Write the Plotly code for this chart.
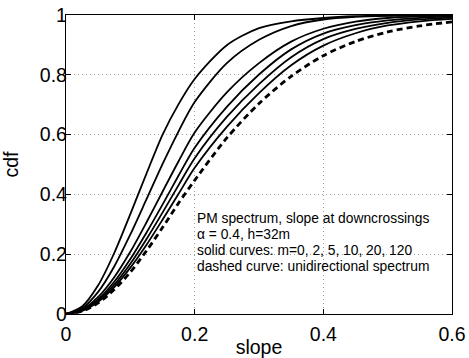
import plotly.graph_objects as go

slope = [0, 0.025, 0.05, 0.075, 0.1, 0.125, 0.15, 0.175, 0.2, 0.25, 0.3, 0.35, 0.4, 0.45, 0.5, 0.55, 0.6]

cdf_m0 = [0, 0.025, 0.096, 0.204, 0.334, 0.469, 0.599, 0.702, 0.786, 0.899, 0.956, 0.979, 0.990, 0.996, 0.998, 0.999, 0.9995]
cdf_m2 = [0, 0.019, 0.074, 0.159, 0.266, 0.383, 0.501, 0.611, 0.709, 0.839, 0.917, 0.963, 0.985, 0.9937, 0.9974, 0.9991, 0.9997]
cdf_m5 = [0, 0.0145, 0.057, 0.123, 0.208, 0.306, 0.409, 0.511, 0.607, 0.741, 0.839, 0.911, 0.954, 0.978, 0.990, 0.9954, 0.998]
cdf_m10 = [0, 0.0126, 0.0495, 0.108, 0.184, 0.272, 0.366, 0.463, 0.556, 0.693, 0.801, 0.885, 0.938, 0.966, 0.982, 0.9905, 0.9951]
cdf_m20 = [0, 0.0114, 0.045, 0.098, 0.168, 0.250, 0.339, 0.431, 0.521, 0.659, 0.769, 0.859, 0.9195, 0.9534, 0.9738, 0.9852, 0.9914]
cdf_m120 = [0, 0.0104, 0.041, 0.090, 0.155, 0.231, 0.315, 0.402, 0.489, 0.626, 0.739, 0.832, 0.8976, 0.939, 0.965, 0.979, 0.987]
cdf_uni = [0, 0.0094, 0.037, 0.0817, 0.140, 0.211, 0.289, 0.371, 0.447, 0.589, 0.704, 0.795, 0.864, 0.9115, 0.9434, 0.9637, 0.977]

solid_series = [cdf_m0, cdf_m2, cdf_m5, cdf_m10, cdf_m20, cdf_m120]
solid_names = ["m=0", "m=2", "m=5", "m=10", "m=20", "m=120"]

x_ticks = [0, 0.2, 0.4, 0.6]
x_tick_labels = ["0", "0.2", "0.4", "0.6"]
y_ticks = [0, 0.2, 0.4, 0.6, 0.8, 1]
y_tick_labels = ["0", "0.2", "0.4", "0.6", "0.8", "1"]

note_lines = [
    "PM spectrum, slope at downcrossings",
    "\u03b1 = 0.4, h=32m",
    "solid curves: m=0, 2, 5, 10, 20, 120",
    "dashed curve: unidirectional spectrum",
]

FONT = "Liberation Sans, Arial, Helvetica, sans-serif"

fig = go.Figure()
for ys, nm in zip(solid_series, solid_names):
    fig.add_trace(go.Scatter(x=slope, y=ys, mode="lines", name=nm,
                             line=dict(color="black", width=1.8, shape="spline", smoothing=0.8)))
fig.add_trace(go.Scatter(x=slope, y=cdf_uni, mode="lines", name="unidirectional",
                         line=dict(color="black", width=2.8, dash="6px,4px", shape="spline", smoothing=0.8)))

for i, t in enumerate(note_lines):
    fig.add_annotation(x=0.201, y=0.318 - i * 0.053, xref="x", yref="y", text=t,
                       showarrow=False, xanchor="left", yanchor="middle",
                       font=dict(family=FONT, size=13.8, color="black"))

axis_common = dict(showline=True, linecolor="black", linewidth=1.3, mirror="ticks",
                   ticks="inside", ticklen=5, tickcolor="black", tickwidth=1,
                   showgrid=True, gridcolor="#a0a0a0", gridwidth=1, griddash="1px,3px",
                   zeroline=False, automargin=False, ticklabeloverflow="allow",
                   tickfont=dict(family=FONT, size=19.5, color="black"))

fig.update_xaxes(range=[0, 0.6], tickvals=x_ticks, ticktext=x_tick_labels, ticklabelstandoff=2,
                 title=dict(text="slope", font=dict(family=FONT, size=19.5, color="black"), standoff=0),
                 **axis_common)
fig.update_yaxes(range=[0, 1], tickvals=y_ticks, ticktext=y_tick_labels, ticklabelstandoff=-6,
                 title=dict(text="cdf", font=dict(family=FONT, size=19.5, color="black"), standoff=17),
                 **axis_common)

fig.update_layout(width=469, height=358, margin=dict(l=66, r=17, t=15, b=44),
                  paper_bgcolor="white", plot_bgcolor="white", showlegend=False)

# remove the page's default 8px body margin so the figure sits at the window's corner
fig.write_html("out.html", config={"displayModeBar": False},
               post_script="document.body.style.margin='0';")
